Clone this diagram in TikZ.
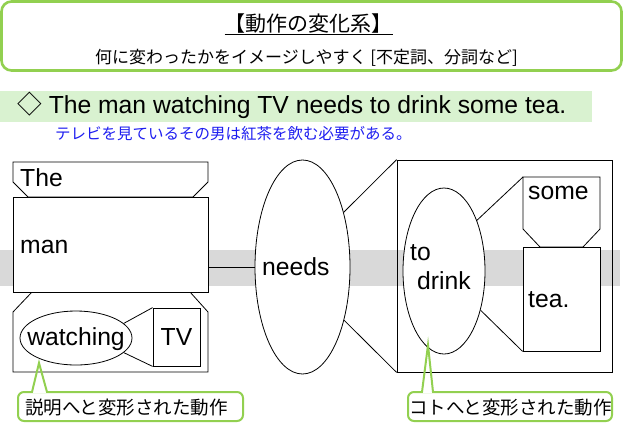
\documentclass[tikz,border=0pt]{standalone}
\usepackage{fontspec}
\setmainfont{Liberation Sans}
\newfontfamily\jp{Noto Sans CJK JP}
\usetikzlibrary{shapes.geometric}
\definecolor{frameGreen}{RGB}{146,208,80}
\definecolor{bandGreen}{RGB}{217,242,208}
\definecolor{bandGray}{RGB}{217,217,217}
\definecolor{jpBlue}{RGB}{30,30,240}
\begin{document}
\begin{tikzpicture}[x=1pt,y=-1pt,
  shp/.style={draw=black,line width=0.8pt,fill=white},
  boxnode/.style={shp,rectangle,inner sep=0pt},
  ellnode/.style={shp,ellipse,inner sep=0pt},
  link/.style={draw=black,line width=0.8pt},
  en/.style={font=\fontsize{24.7}{28}\selectfont,inner sep=0pt,anchor=base west},
  calloutbox/.style={draw=frameGreen,line width=2pt,rounded corners=6pt,fill=white,inner sep=0pt},
  calloutline/.style={draw=frameGreen,line width=2pt,line join=miter},
  cjk/.style={font=\jp\fontsize{18.5}{20}\selectfont,inner sep=0pt,anchor=base west}
]
\useasboundingbox (0,0) rectangle (623,432);

% header
\node[draw=frameGreen,line width=2.6pt,rounded corners=10pt,minimum width=620,minimum height=69,inner sep=0pt] (head) at (311.5,36) {};
\node[font=\jp\fontsize{21}{24}\selectfont,inner sep=0pt,anchor=base] (title) at (308.5,31) {\underline{【動作の変化系】}};
\node[font=\jp\fontsize{17}{20}\selectfont,inner sep=0pt,anchor=base] (subtitle) at (306.5,63.5) {何に変わったかをイメージしやすく [不定詞、分詞など]};

% sentence band
\fill[bandGreen] (0,91) rectangle (592,122);
\node[en] (sentence) at (17,113) {{\jp ◇} The man watching TV needs to drink some tea.};
\node[font=\jp\fontsize{15.5}{18}\selectfont,text=jpBlue,inner sep=0pt,anchor=base west] (trans) at (55,139.5) {テレビを見ているその男は紅茶を飲む必要がある。};

% gray band
\fill[bandGray] (0,250) rectangle (620,286);

% left: The / man / watching TV
\draw[shp] (13,162) -- (208,162) -- (208,182) -- (193,197) -- (28,197) -- (13,182) -- cycle;
\draw[shp] (32,292) -- (13,312) -- (13,372) -- (208,372) -- (208,312) -- (190,292) -- cycle;
\node[boxnode,minimum width=195,minimum height=95] (man) at (110.5,244.5) {};
\node[ellnode,minimum width=112,minimum height=54] (watching) at (76,338) {};
\node[boxnode,minimum width=47,minimum height=58] (tv) at (176.5,337) {};
\draw[link] (watching.17) -- (tv.north west);
\draw[link] (watching.-17) -- (tv.south west);

% needs
\node[ellnode,minimum width=95,minimum height=214] (needs) at (302.5,267) {};
\draw[link] (man.east |- needs.west) -- (needs.west);

% right: to drink some tea
\node[draw=black,line width=0.8pt,rectangle,inner sep=0pt,minimum width=215,minimum height=212] (bigbox) at (504.5,266) {};
\draw[link] (needs.53) -- (bigbox.north west);
\draw[link] (needs.-52) -- (bigbox.south west);
\node[ellnode,minimum width=82,minimum height=166] (todrink) at (444,271) {};
\coordinate (somenw) at (523,177);
\draw[shp] (somenw) -- (600,177) -- (600,229) -- (583,247) -- (540,247) -- (523,229) -- cycle;
\node[boxnode,minimum width=77,minimum height=104] (tea) at (561.5,299) {};
\draw[link] (todrink.57) -- (somenw);
\draw[link] (todrink.-47) -- (tea.south west);

% texts
\node[en] (tThe) at (20,186) {The};
\node[en] (tman) at (20,253) {man};
\node[en,anchor=base] (twatching) at (76,345) {watching};
\node[en,anchor=base] (ttv) at (176.5,345) {TV};
\node[en] (tneeds) at (262,275) {needs};
\node[en] (tto) at (410,260) {to};
\node[en] (tdrink) at (417,289) {drink};
\node[en] (tsome) at (528,199) {some};
\node[en] (ttea) at (528,307) {tea.};

% callouts
\node[calloutbox,minimum width=225,minimum height=29] (call1) at (130.5,406.5) {};
\coordinate (tip1) at (39,363);
\fill[white] (33.2,390.6) rectangle (45.8,393.4);
\draw[calloutline] (32,392) -- (tip1) -- (47,392);
\node[cjk] (c1text) at (25,414) {説明へと変形された動作};

\node[calloutbox,minimum width=204,minimum height=29] (call2) at (510,406.5) {};
\coordinate (tip2) at (428,345);
\fill[white] (423.2,390.6) rectangle (431.8,393.4);
\draw[calloutline] (422,392) -- (tip2) -- (433,392);
\node[cjk] (c2text) at (409,414) {コトへと変形された動作};
\end{tikzpicture}
\end{document}
